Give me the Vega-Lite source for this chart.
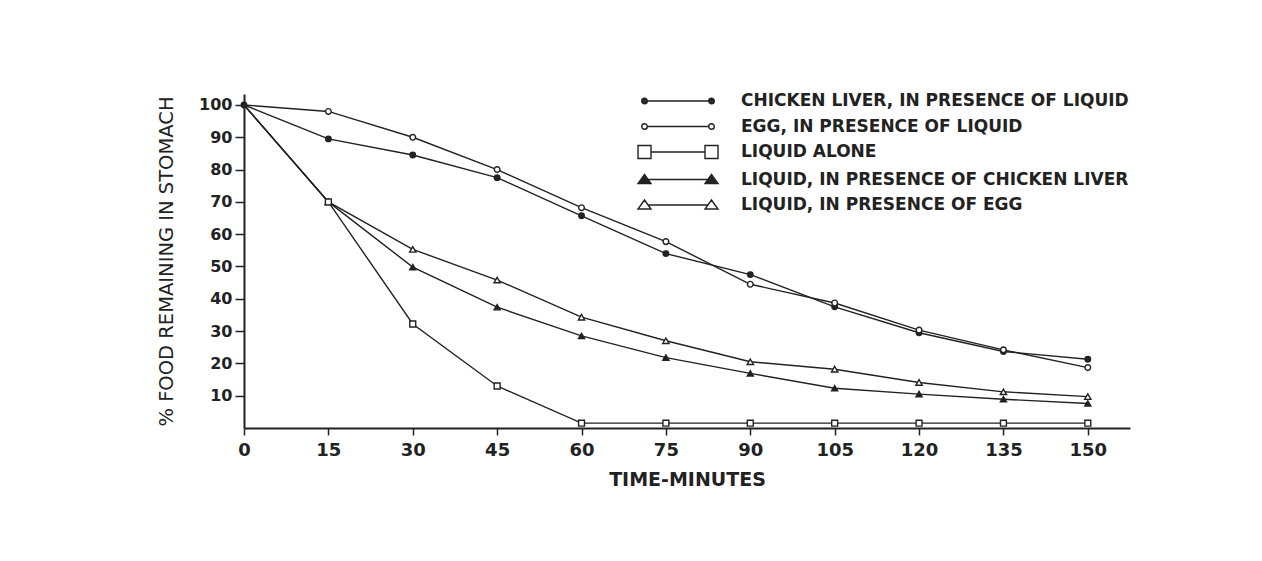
{
  "$schema": "https://vega.github.io/schema/vega-lite/v6.json",
  "width": 886,
  "height": 334,
  "autosize": {"type": "none"},
  "padding": {"left": 244, "top": 94, "right": 132, "bottom": 133},
  "background": "white",
  "config": {"view": {"stroke": null}, "font": "DejaVu Sans"},
  "data": {
    "values": [
      {"series": "CHICKEN LIVER, IN PRESENCE OF LIQUID", "time": 0, "pct": 100},
      {"series": "CHICKEN LIVER, IN PRESENCE OF LIQUID", "time": 15, "pct": 89.5},
      {"series": "CHICKEN LIVER, IN PRESENCE OF LIQUID", "time": 30, "pct": 84.5},
      {"series": "CHICKEN LIVER, IN PRESENCE OF LIQUID", "time": 45, "pct": 77.5},
      {"series": "CHICKEN LIVER, IN PRESENCE OF LIQUID", "time": 60, "pct": 65.7},
      {"series": "CHICKEN LIVER, IN PRESENCE OF LIQUID", "time": 75, "pct": 54},
      {"series": "CHICKEN LIVER, IN PRESENCE OF LIQUID", "time": 90, "pct": 47.5},
      {"series": "CHICKEN LIVER, IN PRESENCE OF LIQUID", "time": 105, "pct": 37.5},
      {"series": "CHICKEN LIVER, IN PRESENCE OF LIQUID", "time": 120, "pct": 29.5},
      {"series": "CHICKEN LIVER, IN PRESENCE OF LIQUID", "time": 135, "pct": 23.7},
      {"series": "CHICKEN LIVER, IN PRESENCE OF LIQUID", "time": 150, "pct": 21.3},
      {"series": "EGG, IN PRESENCE OF LIQUID", "time": 0, "pct": 100},
      {"series": "EGG, IN PRESENCE OF LIQUID", "time": 15, "pct": 98},
      {"series": "EGG, IN PRESENCE OF LIQUID", "time": 30, "pct": 90},
      {"series": "EGG, IN PRESENCE OF LIQUID", "time": 45, "pct": 80},
      {"series": "EGG, IN PRESENCE OF LIQUID", "time": 60, "pct": 68.2},
      {"series": "EGG, IN PRESENCE OF LIQUID", "time": 75, "pct": 57.7},
      {"series": "EGG, IN PRESENCE OF LIQUID", "time": 90, "pct": 44.5},
      {"series": "EGG, IN PRESENCE OF LIQUID", "time": 105, "pct": 38.7},
      {"series": "EGG, IN PRESENCE OF LIQUID", "time": 120, "pct": 30.3},
      {"series": "EGG, IN PRESENCE OF LIQUID", "time": 135, "pct": 24.2},
      {"series": "EGG, IN PRESENCE OF LIQUID", "time": 150, "pct": 18.7},
      {"series": "LIQUID, IN PRESENCE OF EGG", "time": 0, "pct": 100},
      {"series": "LIQUID, IN PRESENCE OF EGG", "time": 15, "pct": 70},
      {"series": "LIQUID, IN PRESENCE OF EGG", "time": 30, "pct": 55.3},
      {"series": "LIQUID, IN PRESENCE OF EGG", "time": 45, "pct": 45.8},
      {"series": "LIQUID, IN PRESENCE OF EGG", "time": 60, "pct": 34.3},
      {"series": "LIQUID, IN PRESENCE OF EGG", "time": 75, "pct": 27},
      {"series": "LIQUID, IN PRESENCE OF EGG", "time": 90, "pct": 20.5},
      {"series": "LIQUID, IN PRESENCE OF EGG", "time": 105, "pct": 18.2},
      {"series": "LIQUID, IN PRESENCE OF EGG", "time": 120, "pct": 14.1},
      {"series": "LIQUID, IN PRESENCE OF EGG", "time": 135, "pct": 11.2},
      {"series": "LIQUID, IN PRESENCE OF EGG", "time": 150, "pct": 9.7},
      {"series": "LIQUID, IN PRESENCE OF CHICKEN LIVER", "time": 0, "pct": 100},
      {"series": "LIQUID, IN PRESENCE OF CHICKEN LIVER", "time": 15, "pct": 70},
      {"series": "LIQUID, IN PRESENCE OF CHICKEN LIVER", "time": 30, "pct": 49.8},
      {"series": "LIQUID, IN PRESENCE OF CHICKEN LIVER", "time": 45, "pct": 37.4},
      {"series": "LIQUID, IN PRESENCE OF CHICKEN LIVER", "time": 60, "pct": 28.5},
      {"series": "LIQUID, IN PRESENCE OF CHICKEN LIVER", "time": 75, "pct": 21.8},
      {"series": "LIQUID, IN PRESENCE OF CHICKEN LIVER", "time": 90, "pct": 16.9},
      {"series": "LIQUID, IN PRESENCE OF CHICKEN LIVER", "time": 105, "pct": 12.3},
      {"series": "LIQUID, IN PRESENCE OF CHICKEN LIVER", "time": 120, "pct": 10.5},
      {"series": "LIQUID, IN PRESENCE OF CHICKEN LIVER", "time": 135, "pct": 8.9},
      {"series": "LIQUID, IN PRESENCE OF CHICKEN LIVER", "time": 150, "pct": 7.6},
      {"series": "LIQUID ALONE", "time": 0, "pct": 100},
      {"series": "LIQUID ALONE", "time": 15, "pct": 70},
      {"series": "LIQUID ALONE", "time": 30, "pct": 32.2},
      {"series": "LIQUID ALONE", "time": 45, "pct": 13},
      {"series": "LIQUID ALONE", "time": 60, "pct": 1.5},
      {"series": "LIQUID ALONE", "time": 75, "pct": 1.5},
      {"series": "LIQUID ALONE", "time": 90, "pct": 1.5},
      {"series": "LIQUID ALONE", "time": 105, "pct": 1.5},
      {"series": "LIQUID ALONE", "time": 120, "pct": 1.5},
      {"series": "LIQUID ALONE", "time": 135, "pct": 1.5},
      {"series": "LIQUID ALONE", "time": 150, "pct": 1.5}
    ]
  },
  "encoding": {
    "x": {
      "field": "time",
      "type": "quantitative",
      "scale": {"domain": [0, 157.5], "nice": false, "zero": false},
      "axis": {
        "values": [0, 15, 30, 45, 60, 75, 90, 105, 120, 135, 150],
        "grid": false,
        "title": "TIME-MINUTES",
        "titleFont": "DejaVu Sans",
        "titleFontSize": 19,
        "titleFontWeight": "bold",
        "titleColor": "#222",
        "titlePadding": 11,
        "labelFont": "DejaVu Sans",
        "labelFontSize": 18,
        "labelFontWeight": "bold",
        "labelColor": "#222",
        "labelPadding": 6,
        "labelFlush": false,
        "domainColor": "#222",
        "domainWidth": 2,
        "tickColor": "#222",
        "tickWidth": 1.5,
        "tickSize": 7
      }
    },
    "y": {
      "field": "pct",
      "type": "quantitative",
      "scale": {"domain": [0, 103.4], "nice": false, "zero": false},
      "axis": {
        "values": [10, 20, 30, 40, 50, 60, 70, 80, 90, 100],
        "grid": false,
        "title": "% FOOD REMAINING IN STOMACH",
        "titleFont": "DejaVu Sans",
        "titleFontSize": 19.5,
        "titleFontWeight": "normal",
        "titleColor": "#222",
        "titlePadding": 22,
        "labelFont": "DejaVu Sans",
        "labelFontSize": 16,
        "labelFontWeight": "bold",
        "labelColor": "#222",
        "labelPadding": 3,
        "labelFlush": false,
        "domainColor": "#222",
        "domainWidth": 2,
        "tickColor": "#222",
        "tickWidth": 1.5,
        "tickSize": 9
      }
    }
  },
  "layer": [
    {
      "mark": {"type": "line", "color": "#222", "strokeWidth": 1.4},
      "encoding": {"detail": {"field": "series", "type": "nominal"}}
    },
    {
      "transform": [{"filter": "datum.time > 0 || datum.series == 'CHICKEN LIVER, IN PRESENCE OF LIQUID'"}],
      "mark": {"type": "point", "filled": true, "stroke": "#222", "strokeWidth": 1.4, "opacity": 1},
      "encoding": {
        "shape": {
          "field": "series",
          "type": "nominal",
          "scale": {
            "domain": ["CHICKEN LIVER, IN PRESENCE OF LIQUID", "EGG, IN PRESENCE OF LIQUID", "LIQUID ALONE", "LIQUID, IN PRESENCE OF CHICKEN LIVER", "LIQUID, IN PRESENCE OF EGG"],
            "range": ["circle", "circle", "square", "triangle-up", "triangle-up"]
          },
          "legend": null
        },
        "fill": {
          "field": "series",
          "type": "nominal",
          "scale": {
            "domain": ["CHICKEN LIVER, IN PRESENCE OF LIQUID", "EGG, IN PRESENCE OF LIQUID", "LIQUID ALONE", "LIQUID, IN PRESENCE OF CHICKEN LIVER", "LIQUID, IN PRESENCE OF EGG"],
            "range": ["#222", "white", "white", "#222", "white"]
          },
          "legend": null
        },
        "size": {
          "field": "series",
          "type": "nominal",
          "scale": {
            "domain": ["CHICKEN LIVER, IN PRESENCE OF LIQUID", "EGG, IN PRESENCE OF LIQUID", "LIQUID ALONE", "LIQUID, IN PRESENCE OF CHICKEN LIVER", "LIQUID, IN PRESENCE OF EGG"],
            "range": [30, 40, 170, 180, 180]
          },
          "legend": null
        }
      }
    },
    {
      "mark": {"type": "point", "opacity": 0},
      "encoding": {
        "shape": {
          "field": "series",
          "type": "nominal",
          "scale": {
            "domain": ["CHICKEN LIVER, IN PRESENCE OF LIQUID", "EGG, IN PRESENCE OF LIQUID", "LIQUID ALONE", "LIQUID, IN PRESENCE OF CHICKEN LIVER", "LIQUID, IN PRESENCE OF EGG"],
            "range": [
              "M-3.07,0H3.07M-3.63,0A0.28,0.28,0,1,0,-3.07,0A0.28,0.28,0,1,0,-3.63,0ZM-3.5,0A0.15,0.15,0,1,0,-3.2,0A0.15,0.15,0,1,0,-3.5,0ZM3.07,0A0.28,0.28,0,1,0,3.63,0A0.28,0.28,0,1,0,3.07,0ZM3.2,0A0.15,0.15,0,1,0,3.5,0A0.15,0.15,0,1,0,3.2,0ZM-3.4,0H-3.3M3.3,0H3.4",
              "M-3.07,0H3.07M-3.63,0A0.28,0.28,0,1,0,-3.07,0A0.28,0.28,0,1,0,-3.63,0ZM3.07,0A0.28,0.28,0,1,0,3.63,0A0.28,0.28,0,1,0,3.07,0Z",
              "M-2.7,0H2.7M-4,-0.65H-2.7V0.65H-4ZM2.7,-0.65H4V0.65H2.7Z",
              "M-2.99,0H2.99M-3.35,-0.5L-2.7,0.4H-4ZM-3.35,-0.296L-2.921,0.298H-3.779ZM-3.35,-0.098L-3.1355,0.199H-3.5645ZM-3.35,0.07L-3.3175,0.115H-3.3825ZM3.35,-0.5L4,0.4H2.7ZM3.35,-0.296L3.779,0.298H2.921ZM3.35,-0.098L3.5645,0.199H3.1355ZM3.35,0.07L3.3825,0.115H3.3175Z",
              "M-2.99,0H2.99M-3.35,-0.5L-2.7,0.4H-4ZM3.35,-0.5L4,0.4H2.7Z"
            ]
          },
          "legend": {
            "title": null,
            "orient": "none",
            "legendX": 423,
            "legendY": -4,
            "symbolSize": 400,
            "symbolStrokeWidth": 1.4,
            "symbolStrokeColor": "#222",
            "symbolFillColor": "transparent",
            "symbolOpacity": 1,
            "labelFont": "DejaVu Sans",
            "labelFontSize": 17,
            "labelFontWeight": "bold",
            "labelColor": "#222",
            "labelOffset": 52,
            "labelLimit": 0,
            "rowPadding": 6.5
          }
        }
      }
    }
  ],
  "resolve": {"scale": {"shape": "independent"}}
}
